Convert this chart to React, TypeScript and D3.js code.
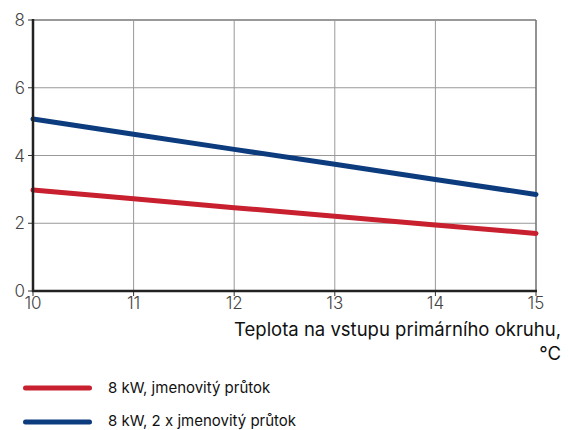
import React from "react";
import * as d3 from "d3";

const temps = [10, 11, 12, 13, 14, 15];
const seriesRed = [2.98, 2.72, 2.46, 2.21, 1.95, 1.7];
const seriesBlue = [5.08, 4.63, 4.18, 3.74, 3.29, 2.85];
const yTicks = [0, 2, 4, 6, 8];
const xTicks = [10, 11, 12, 13, 14, 15];
const legendLabels = ["8 kW, jmenovitý průtok", "8 kW, 2 x jmenovitý průtok"];
const colors = ["#c8202f", "#0c3c7e"];

export default function App() {
  const W = 569, H = 430;
  const x = d3.scaleLinear().domain([10, 15]).range([33, 536]);
  const y = d3.scaleLinear().domain([0, 8]).range([291, 20]);
  const line = d3.line<number>().x((_, i) => x(temps[i])).y((d) => y(d));
  const font = "Inter, 'Noto Sans', sans-serif";
  return (
    <svg width={W} height={H} style={{ position: "absolute", left: 0, top: 0 }} fontFamily={font}>
      <rect width={W} height={H} fill="#fff" />
      {yTicks.filter((t) => t > 0).map((t) => (
        <line key={"h" + t} x1={x(10)} x2={x(15)} y1={y(t)} y2={y(t)} stroke={t === 8 ? "#777" : "#999"} strokeWidth={t === 8 ? 1.6 : 1} />
      ))}
      {xTicks.filter((t) => t > 10).map((t) => (
        <line key={"v" + t} x1={x(t)} x2={x(t)} y1={y(8)} y2={y(0)} stroke={t === 15 ? "#777" : "#999"} strokeWidth={t === 15 ? 1.6 : 1} />
      ))}
      {yTicks.map((t) => (
        <g key={"yt" + t}>
          <line x1={x(10) - 5} x2={x(10)} y1={y(t)} y2={y(t)} stroke="#333" strokeWidth={1} />
          <text x={x(10) - 8} y={y(t)} dy="0.36em" textAnchor="end" fontSize={17} fontWeight={300} fill="#444">{t}</text>
        </g>
      ))}
      {xTicks.map((t) => (
        <g key={"xt" + t}>
          <line x1={x(t)} x2={x(t)} y1={y(0)} y2={y(0) + 5} stroke="#333" strokeWidth={1} />
          <text x={x(t)} y={y(0) + 18} textAnchor="middle" fontSize={17} fontWeight={300} fill="#444">{t}</text>
        </g>
      ))}
      <path d={line(seriesRed) || ""} fill="none" stroke={colors[0]} strokeWidth={5} strokeLinecap="round" />
      <path d={line(seriesBlue) || ""} fill="none" stroke={colors[1]} strokeWidth={5} strokeLinecap="round" />
      <line x1={x(10)} x2={x(10)} y1={y(8) - 1} y2={y(0) + 1} stroke="#222" strokeWidth={2.5} />
      <line x1={x(10) - 1} x2={x(15) + 1} y1={y(0)} y2={y(0)} stroke="#222" strokeWidth={2.5} />
      <text x={561} y={336} textAnchor="end" fontSize={18.5} fill="#111">Teplota na vstupu primárního okruhu,</text>
      <text x={561} y={360} textAnchor="end" fontSize={18.5} fill="#111">°C</text>
      {legendLabels.map((l, i) => (
        <g key={l}>
          <line x1={25.5} x2={89.5} y1={388 + i * 34} y2={388 + i * 34} stroke={colors[i]} strokeWidth={5} strokeLinecap="round" />
          <text x={108} y={393 + i * 33} fontSize={15} fill="#111">{l}</text>
        </g>
      ))}
    </svg>
  );
}
